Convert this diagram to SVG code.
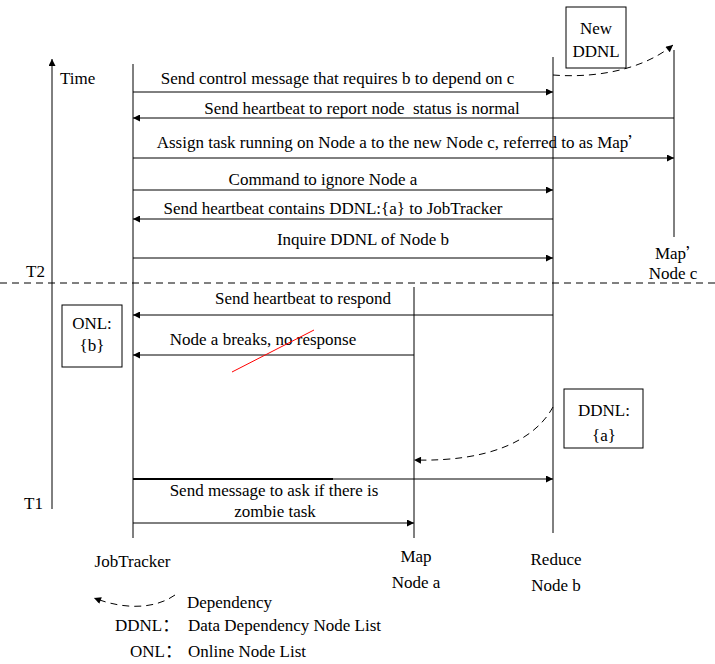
<svg xmlns="http://www.w3.org/2000/svg" width="715" height="664" viewBox="0 0 715 664">
<style>
text{font-family:"Liberation Serif","Times New Roman","Noto Sans CJK SC",serif;font-size:17px;fill:#000}
.m{text-anchor:middle}
.q{font-family:"Noto Sans CJK SC","Noto Sans CJK JP",sans-serif;font-size:15px}
.l{stroke:#000;stroke-width:1;fill:none}
.a{stroke:#000;stroke-width:1;fill:none;marker-end:url(#ah)}
.d{stroke:#000;stroke-width:1;fill:none;stroke-dasharray:7,5;marker-end:url(#ah)}
.b{fill:#fff;stroke:#000;stroke-width:1}
</style>
<defs>
<marker id="ah" viewBox="0 0 10 10" refX="10" refY="5" markerWidth="11" markerHeight="7" markerUnits="userSpaceOnUse" orient="auto">
<path d="M0,0 L10,5 L0,10 z" fill="#000"/>
</marker>
</defs>
<rect width="715" height="664" fill="#fff"/>
<g id="time-axis">
<line class="a" x1="52" y1="509" x2="52" y2="59"/>
<text x="60" y="84">Time</text>
<text x="26" y="277">T2</text>
<text x="24" y="509">T1</text>
<line x1="0" y1="283" x2="715" y2="283" stroke="#000" stroke-dasharray="7,5"/>
</g>
<g id="jobtracker">
<line class="l" x1="133" y1="64" x2="133" y2="538"/>
<text x="132.5" y="567" class="m">JobTracker</text>
</g>
<g id="node-a">
<line class="l" x1="414" y1="287" x2="414" y2="538"/>
<text x="416" y="562" class="m">Map</text>
<text x="416" y="588" class="m">Node a</text>
</g>
<g id="node-b">
<line class="l" x1="553" y1="57" x2="553" y2="533"/>
<text x="556" y="565" class="m">Reduce</text>
<text x="556" y="591" class="m">Node b</text>
</g>
<g id="node-c">
<line class="l" x1="674" y1="50" x2="674" y2="237"/>
<text x="678" y="259" class="m">Map<tspan class="q">’</tspan></text>
<text x="673" y="279" class="m">Node c</text>
</g>
<g id="new-ddnl">
<rect class="b" x="566" y="7" width="60" height="61"/>
<text x="596" y="34" class="m">New</text>
<text x="596" y="57" class="m">DDNL</text>
</g>
<g id="onl">
<rect class="b" x="62" y="305" width="60" height="62"/>
<text x="92" y="329" class="m">ONL:</text>
<text x="92" y="351" class="m">{b}</text>
</g>
<g id="ddnl-a">
<rect class="b" x="564" y="389" width="79" height="59"/>
<text x="604" y="416" class="m">DDNL:</text>
<text x="604" y="441" class="m">{a}</text>
</g>
<g id="connectors">
<line class="a" x1="133" y1="92" x2="553" y2="92"/>
<text x="337.5" y="84" class="m">Send control message that requires b to depend on c</text>
<line class="a" x1="674" y1="118" x2="133" y2="118"/>
<text x="362" y="114" class="m" xml:space="preserve">Send heartbeat to report node  status is normal</text>
<line class="a" x1="133" y1="158" x2="674" y2="158"/>
<text x="400" y="148" class="m">Assign task running on Node a to the new Node c, referred to as Map<tspan class="q">’</tspan></text>
<line class="a" x1="133" y1="190" x2="553" y2="190"/>
<text x="323" y="185" class="m">Command to ignore Node a</text>
<line class="a" x1="553" y1="219" x2="133" y2="219"/>
<text x="333" y="214" class="m">Send heartbeat contains DDNL:{a} to JobTracker</text>
<line class="a" x1="133" y1="258" x2="553" y2="258"/>
<text x="363" y="245" class="m">Inquire DDNL of Node b</text>
<line class="a" x1="553" y1="315" x2="133" y2="315"/>
<text x="303" y="304" class="m">Send heartbeat to respond</text>
<line class="a" x1="414" y1="355" x2="133" y2="355"/>
<text x="263" y="345" class="m">Node a breaks, no response</text>
<line x1="232" y1="372" x2="314" y2="330" stroke="#f00" stroke-width="1"/>
<path class="d" d="M553,407 C535,440 490,462 414,460"/>
<path class="d" d="M553,75 C590,78 640,72 673,45"/>
<line class="a" x1="133" y1="479" x2="553" y2="479"/>
<line x1="133" y1="479" x2="333" y2="479" stroke="#000" stroke-width="2"/>
<text x="274" y="496" class="m">Send message to ask if there is</text>
<text x="275" y="517" class="m">zombie task</text>
<line class="a" x1="133" y1="523" x2="414" y2="523"/>
</g>
<g id="legend">
<path class="d" d="M175,595 C155,609 125,610 94,598"/>
<text x="187" y="608">Dependency</text>
<text x="115" y="631">DDNL：</text>
<text x="188" y="631">Data Dependency Node List</text>
<text x="130" y="657">ONL：</text>
<text x="188" y="657">Online Node List</text>
</g>
</svg>
